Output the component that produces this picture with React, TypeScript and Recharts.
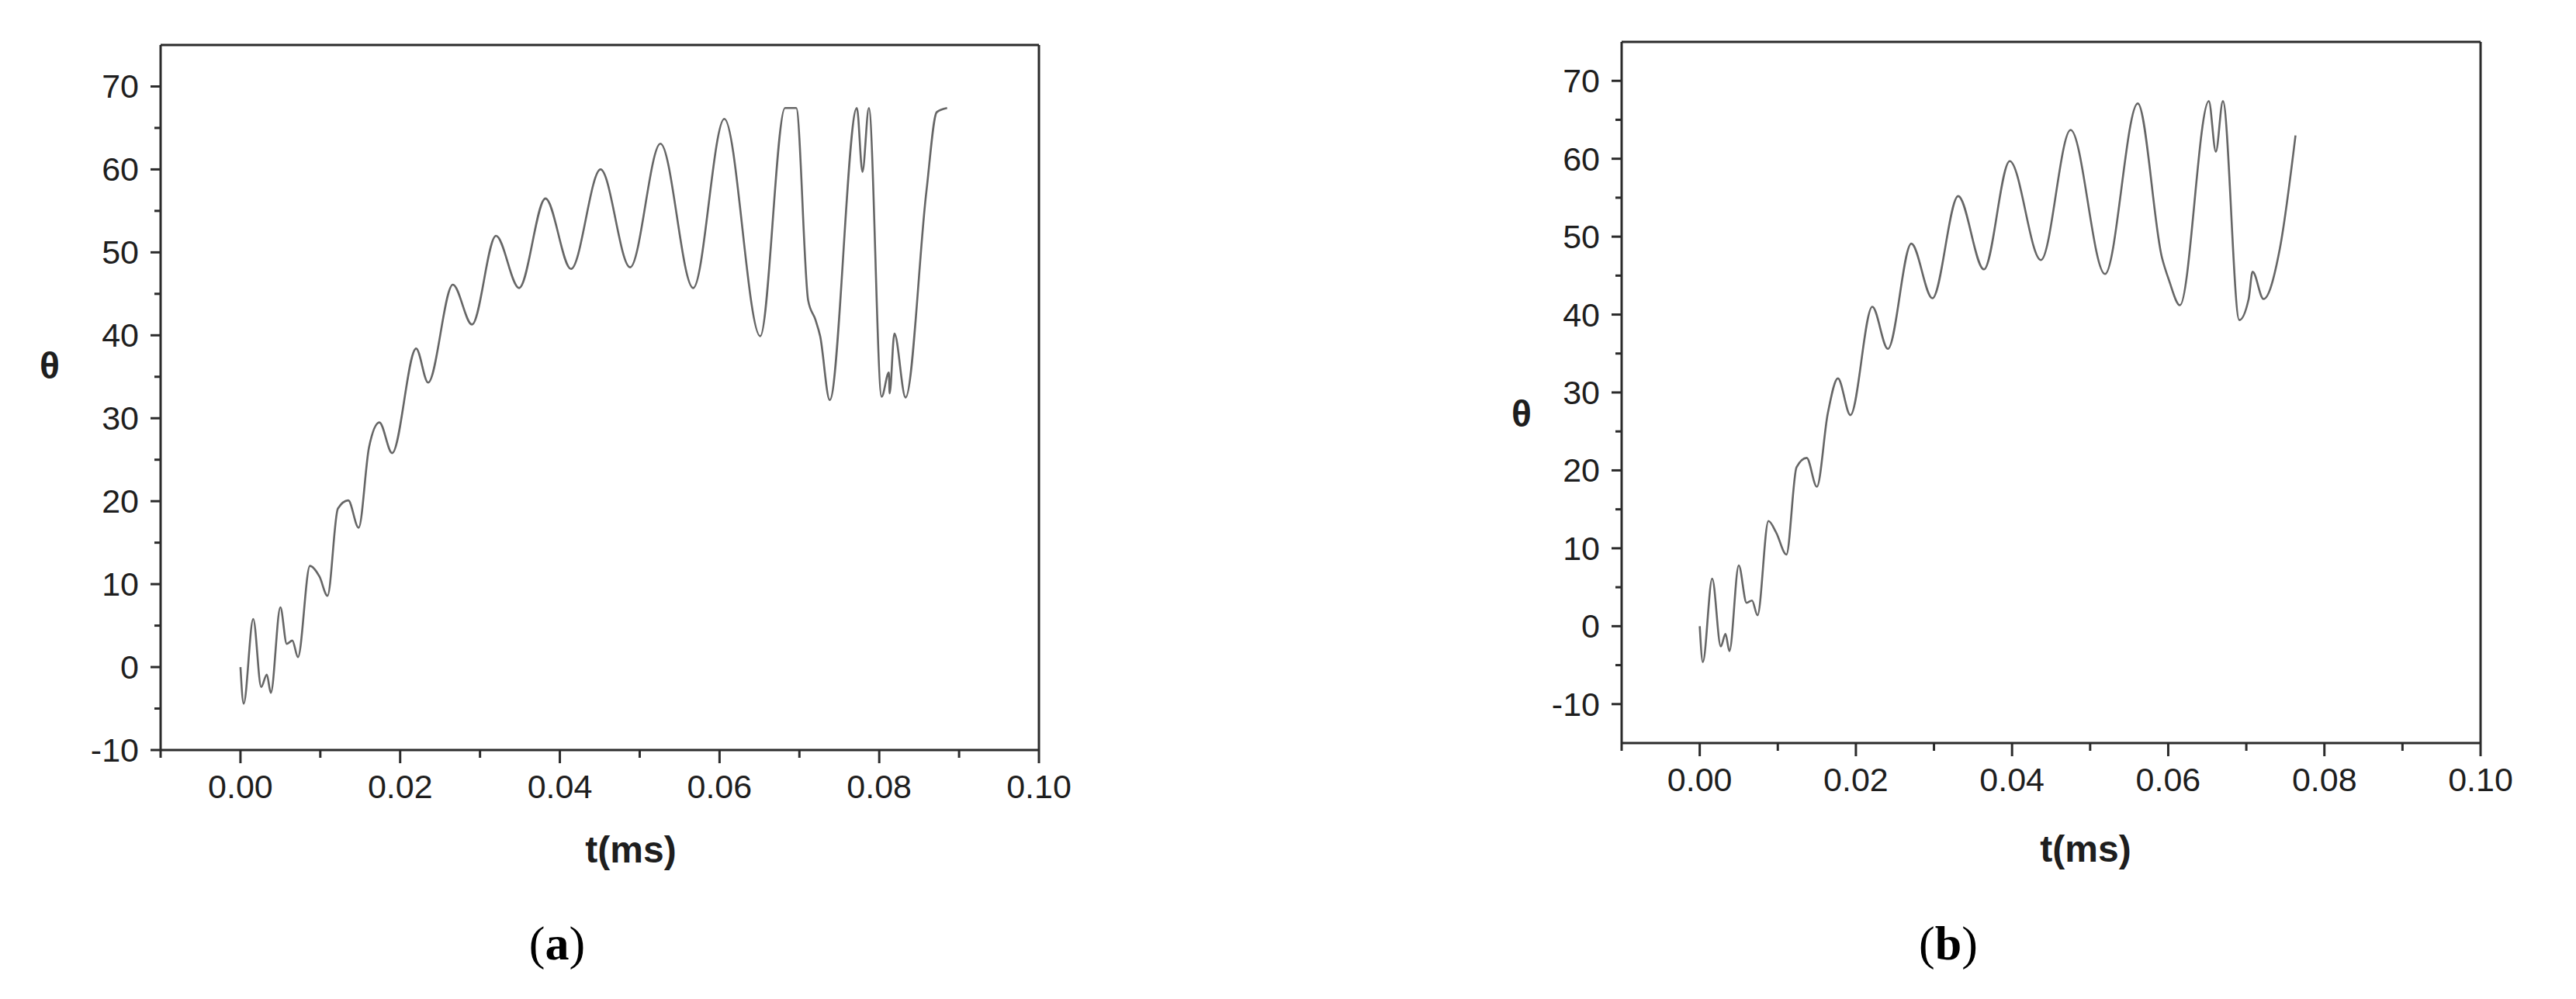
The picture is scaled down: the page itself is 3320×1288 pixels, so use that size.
import React from "react";
import { LineChart, Line, XAxis, YAxis, ReferenceLine } from "recharts";

// panel (a): t in ms, theta in degrees
const timeA = [
  0, 0.0004, 0.0016, 0.0026, 0.0033, 0.0038, 0.005, 0.0058, 0.0065, 0.0072,
  0.0087, 0.0099, 0.0109, 0.0122, 0.0135, 0.0148, 0.0161, 0.0174, 0.019, 0.022,
  0.0235, 0.0266, 0.029, 0.032, 0.0349, 0.0382, 0.0414, 0.0451, 0.0488, 0.0526,
  0.0567, 0.0606, 0.0651, 0.0682, 0.0696, 0.0711, 0.072, 0.0726, 0.0738, 0.0772,
  0.0779, 0.0787, 0.0803, 0.0812, 0.0813, 0.0819, 0.0833, 0.0859, 0.0872, 0.0885,
];
const thetaA = [
  0, -4.4, 5.8, -2.4, -0.9, -3.1, 7.2, 2.8, 3.2, 1.2,
  12.2, 10.9, 8.6, 19.1, 20.1, 16.8, 26.5, 29.5, 25.8, 38.4,
  34.3, 46.1, 41.3, 52.0, 45.7, 56.5, 48.0, 60.0, 48.2, 63.1,
  45.7, 66.1, 39.9, 67.4, 67.4, 44.2, 41.9, 39.9, 32.2, 67.4,
  59.7, 67.4, 32.6, 35.5, 33.0, 40.2, 32.5, 57.3, 66.9, 67.4,
];

// panel (b)
const timeB = [
  0, 0.0004, 0.0016, 0.0027, 0.0033, 0.0038, 0.005, 0.006, 0.0067, 0.0074,
  0.0088, 0.0098, 0.0111, 0.0124, 0.0137, 0.015, 0.0164, 0.0177, 0.0193, 0.0221,
  0.0241, 0.0271, 0.0298, 0.0331, 0.0364, 0.0397, 0.0437, 0.0475, 0.0519, 0.0561,
  0.0592, 0.0601, 0.0615, 0.0652, 0.0661, 0.067, 0.0691, 0.0703, 0.0708, 0.0722,
  0.0743, 0.0763,
];
const thetaB = [
  0, -4.6, 6.1, -2.6, -1.0, -3.2, 7.8, 3.0, 3.3, 1.4,
  13.5, 12.0, 9.2, 20.4, 21.6, 17.9, 27.3, 31.8, 27.1, 41.0,
  35.6, 49.1, 42.1, 55.2, 45.8, 59.7, 47.0, 63.7, 45.2, 67.1,
  47.3, 44.4, 41.2, 67.4, 60.9, 67.4, 39.3, 42.0, 45.5, 42.0,
  48.5, 63.0,
];

const xTicks = [-0.01, 0, 0.01, 0.02, 0.03, 0.04, 0.05, 0.06, 0.07, 0.08, 0.09, 0.1];
const yTicks = [-10, -5, 0, 5, 10, 15, 20, 25, 30, 35, 40, 45, 50, 55, 60, 65, 70];

const dataA = timeA.map((t, i) => ({ t, v: thetaA[i] }));
const dataB = timeB.map((t, i) => ({ t, v: thetaB[i] }));

const AXIS = "#2b2b2b";
const TEXT = "#1e1e1e";
const LINE = "#666666";
const FONT = "'Liberation Sans', Arial, sans-serif";

const XTick = (props: any) => {
  const { x, y, payload } = props;
  const v = payload.value as number;
  const major = Math.round(v * 100) % 2 === 0;
  return (
    <g>
      <line x1={x} x2={x} y1={y} y2={y + (major ? 17 : 10)} stroke={AXIS} strokeWidth={3} />
      {major && (
        <text x={x} y={y + 62} textAnchor="middle" fontSize={43} fontFamily={FONT} fill={TEXT}>
          {v.toFixed(2)}
        </text>
      )}
    </g>
  );
};

const YTick = (props: any) => {
  const { x, y, payload } = props;
  const v = payload.value as number;
  const major = v % 10 === 0;
  return (
    <g>
      <line x1={x - (major ? 13 : 8)} x2={x} y1={y} y2={y} stroke={AXIS} strokeWidth={3} />
      {major && (
        <text x={x - 28} y={y + 15} textAnchor="end" fontSize={43} fontFamily={FONT} fill={TEXT}>
          {v}
        </text>
      )}
    </g>
  );
};

function Panel({
  data,
  yMin,
  margin,
}: {
  data: { t: number; v: number }[];
  yMin: number;
  margin: { top: number; right: number; left: number; bottom: number };
}) {
  return (
    <LineChart width={1400} height={1150} data={data} margin={margin}>
      <XAxis
        dataKey="t"
        type="number"
        domain={[-0.01, 0.1]}
        allowDataOverflow
        ticks={xTicks}
        interval={0}
        height={100}
        tickSize={0}
        tickMargin={0}
        tickLine={false}
        tick={<XTick />}
        axisLine={{ stroke: AXIS, strokeWidth: 3 }}
      />
      <YAxis
        type="number"
        domain={[yMin, 75]}
        allowDataOverflow
        ticks={yTicks}
        interval={0}
        width={150}
        tickSize={0}
        tickMargin={0}
        tickLine={false}
        tick={<YTick />}
        axisLine={{ stroke: AXIS, strokeWidth: 3 }}
      />
      <ReferenceLine y={75} stroke={AXIS} strokeWidth={3} />
      <ReferenceLine x={0.1} stroke={AXIS} strokeWidth={3} />
      <Line
        dataKey="v"
        type="monotone"
        stroke={LINE}
        strokeWidth={2.6}
        dot={false}
        isAnimationActive={false}
      />
    </LineChart>
  );
}

const labelStyle: React.CSSProperties = {
  position: "absolute",
  transform: "translate(-50%, -50%)",
  fontFamily: FONT,
  fontWeight: 700,
  color: TEXT,
  whiteSpace: "nowrap",
  lineHeight: 1,
};

const captionStyle: React.CSSProperties = {
  position: "absolute",
  transform: "translate(-50%, -50%)",
  fontFamily: "'Liberation Serif', 'DejaVu Serif', serif",
  fontSize: 62,
  color: "#000",
  whiteSpace: "nowrap",
  lineHeight: 1,
};

export default function App() {
  return (
    <div
      style={{
        position: "absolute",
        left: 0,
        top: 0,
        width: 3320,
        height: 1288,
        background: "#fff",
        overflow: "hidden",
      }}
    >
      <div style={{ position: "absolute", left: 0, top: 0 }}>
        <Panel data={dataA} yMin={-10} margin={{ top: 58, right: 61, left: 57, bottom: 83 }} />
      </div>
      <div style={{ position: "absolute", left: 1900, top: 0 }}>
        <Panel data={dataB} yMin={-15} margin={{ top: 54, right: 103, left: 40, bottom: 92 }} />
      </div>

      <div style={{ ...labelStyle, left: 64, top: 472, fontSize: 48 }}>θ</div>
      <div style={{ ...labelStyle, left: 813, top: 1096, fontSize: 48 }}>t(ms)</div>
      <div style={{ ...labelStyle, left: 1961, top: 534, fontSize: 48 }}>θ</div>
      <div style={{ ...labelStyle, left: 2688, top: 1095, fontSize: 48 }}>t(ms)</div>

      <div style={{ ...captionStyle, left: 718, top: 1216 }}>
        (<b>a</b>)
      </div>
      <div style={{ ...captionStyle, left: 2511, top: 1216 }}>
        (<b>b</b>)
      </div>
    </div>
  );
}
